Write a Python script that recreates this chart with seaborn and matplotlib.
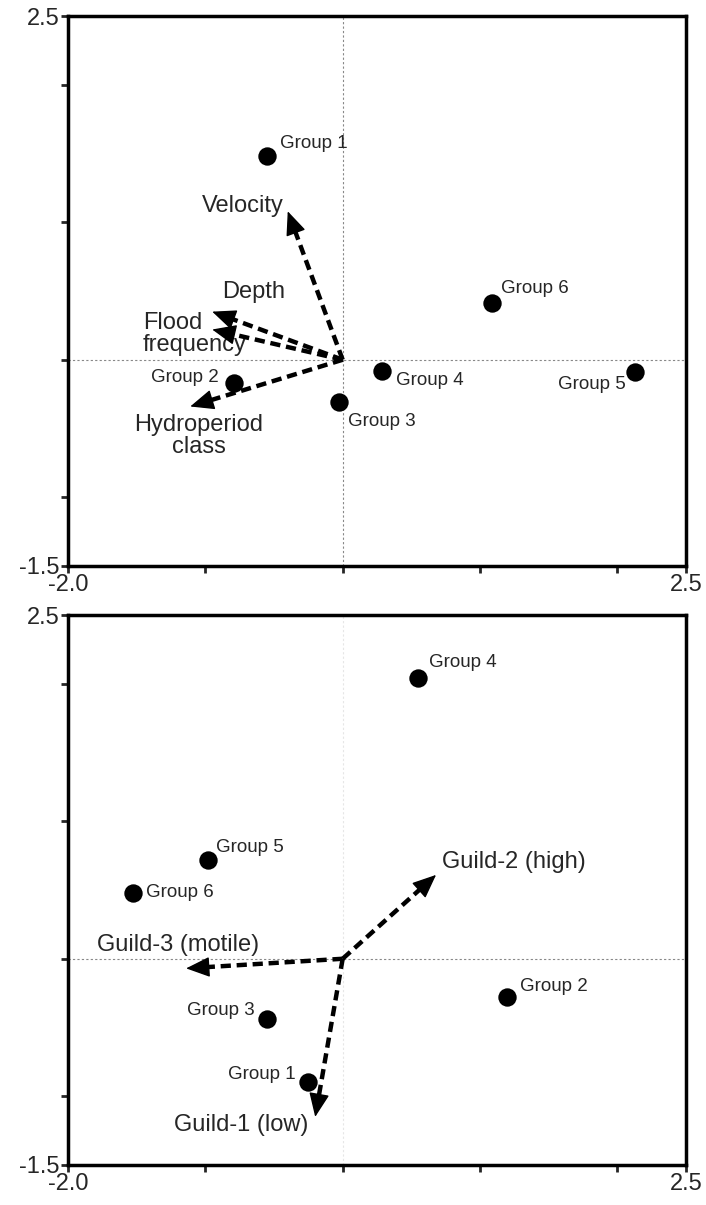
import numpy as np
import pandas as pd
import matplotlib
matplotlib.use('Agg')
import matplotlib.pyplot as plt
import seaborn as sns

# top panel - groups and environmental vectors
top_groups = ['Group 1', 'Group 2', 'Group 3', 'Group 4', 'Group 5', 'Group 6']
top_x = [-0.55, -0.79, -0.03, 0.29, 2.13, 1.09]
top_y = [1.48, -0.17, -0.31, -0.08, -0.09, 0.41]
env_vars = ['Velocity', 'Depth', 'Flood\nfrequency', 'Hydroperiod\nclass']
env_x = [-0.40, -0.95, -0.95, -1.11]
env_y = [1.08, 0.35, 0.22, -0.34]

# bottom panel - groups and guild vectors
bot_groups = ['Group 1', 'Group 2', 'Group 3', 'Group 4', 'Group 5', 'Group 6']
bot_x = [-0.25, 1.20, -0.55, 0.55, -0.98, -1.53]
bot_y = [-0.90, -0.28, -0.44, 2.04, 0.72, 0.48]
guild_vars = ['Guild-2 (high)', 'Guild-3 (motile)', 'Guild-1 (low)']
guild_x = [0.68, -1.14, -0.20]
guild_y = [0.61, -0.07, -1.15]

x_ticks = [-2, -1, 0, 1, 2, 2.5]
x_ticklabels = ['-2.0', '', '', '', '', '2.5']
y_ticks = [-1.5, -1, 0, 1, 2, 2.5]
y_ticklabels = ['-1.5', '', '', '', '', '2.5']

sns.set_style('ticks')
plt.rcParams['font.family'] = ['Liberation Sans', 'DejaVu Sans']

fig = plt.figure(figsize=(7.06, 12.05), dpi=100)
ax1 = fig.add_axes([0.0963, 0.5303, 0.8754, 0.4564])
ax2 = fig.add_axes([0.0963, 0.0332, 0.8754, 0.4564])

# label offsets in points (style only)
top_offsets = {
    'Group 1': (9, 9, 'left'), 'Group 2': (-11, 4, 'right'), 'Group 3': (7, -14, 'left'),
    'Group 4': (10, -7, 'left'), 'Group 5': (-7, -9, 'right'), 'Group 6': (6, 11, 'left'),
}
bot_offsets = {
    'Group 1': (-9, 6, 'right'), 'Group 2': (9, 8, 'left'), 'Group 3': (-9, 6, 'right'),
    'Group 4': (8, 11, 'left'), 'Group 5': (6, 9, 'left'), 'Group 6': (10, 0, 'left'),
}
env_offsets = {
    'Velocity': (-32, 4, 'center', 'center'), 'Depth': (30, 14, 'center', 'center'),
    'Flood\nfrequency': (-50, -3, 'left', 'left'),
    'Hydroperiod\nclass': (6, -21, 'center', 'center'),
}
guild_offsets = {
    'Guild-2 (high)': (4, 9, 'left', 'left'), 'Guild-3 (motile)': (-6, 17, 'center', 'center'),
    'Guild-1 (low)': (-53, -6, 'center', 'center'),
}

HEAD = 0.13  # head length in data units


def draw_panel(ax, groups, gx, gy, offsets, vars_, vx, vy, voffsets, vline_color):
    ax.axhline(0, color='#888888', lw=0.8, ls=(0, (2, 2)), zorder=1)
    ax.axvline(0, color=vline_color, lw=0.8, ls=(0, (2, 2)), zorder=1)
    df = pd.DataFrame({'x': gx, 'y': gy, 'group': groups})
    sns.scatterplot(data=df, x='x', y='y', ax=ax, color='black', s=175,
                    edgecolor='black', linewidth=0, zorder=3)
    for g, x, y in zip(groups, gx, gy):
        dx, dy, ha = offsets[g]
        ax.annotate(g, (x, y), xytext=(dx, dy), textcoords='offset points',
                    ha=ha, va='center', fontsize=13.5)
    for name, x, y in zip(vars_, vx, vy):
        length = np.hypot(x, y)
        bx, by = x * (1 - HEAD / length), y * (1 - HEAD / length)
        ax.plot([0, bx], [0, by], color='black', lw=3.2, ls=(0, (2.3, 1.3)),
                solid_capstyle='butt', dash_capstyle='butt', zorder=4)
        ax.annotate('', xy=(x, y), xytext=(bx, by),
                    arrowprops=dict(arrowstyle='-|>,head_length=0.75,head_width=0.32',
                                    lw=1, color='black', shrinkA=0, shrinkB=0,
                                    mutation_scale=20),
                    zorder=4)
        dx, dy, ha, ma = voffsets[name]
        ax.annotate(name, (x, y), xytext=(dx, dy), textcoords='offset points',
                    ha=ha, va='center', fontsize=17, multialignment=ma,
                    linespacing=1.0)
    ax.set_xlim(-2, 2.5)
    ax.set_ylim(-1.5, 2.5)
    ax.set_xticks(x_ticks)
    ax.set_xticklabels(x_ticklabels)
    ax.set_yticks(y_ticks)
    ax.set_yticklabels(y_ticklabels)
    ax.tick_params(axis='both', direction='out', length=5, width=2, labelsize=17, pad=1)
    ax.set_xlabel('')
    ax.set_ylabel('')
    for sp in ax.spines.values():
        sp.set_visible(True)
        sp.set_linewidth(2.5)
        sp.set_color('black')


draw_panel(ax1, top_groups, top_x, top_y, top_offsets,
           env_vars, env_x, env_y, env_offsets, '#888888')
draw_panel(ax2, bot_groups, bot_x, bot_y, bot_offsets,
           guild_vars, guild_x, guild_y, guild_offsets, '#e6e6e6')

fig.savefig('out.png', dpi=100)
